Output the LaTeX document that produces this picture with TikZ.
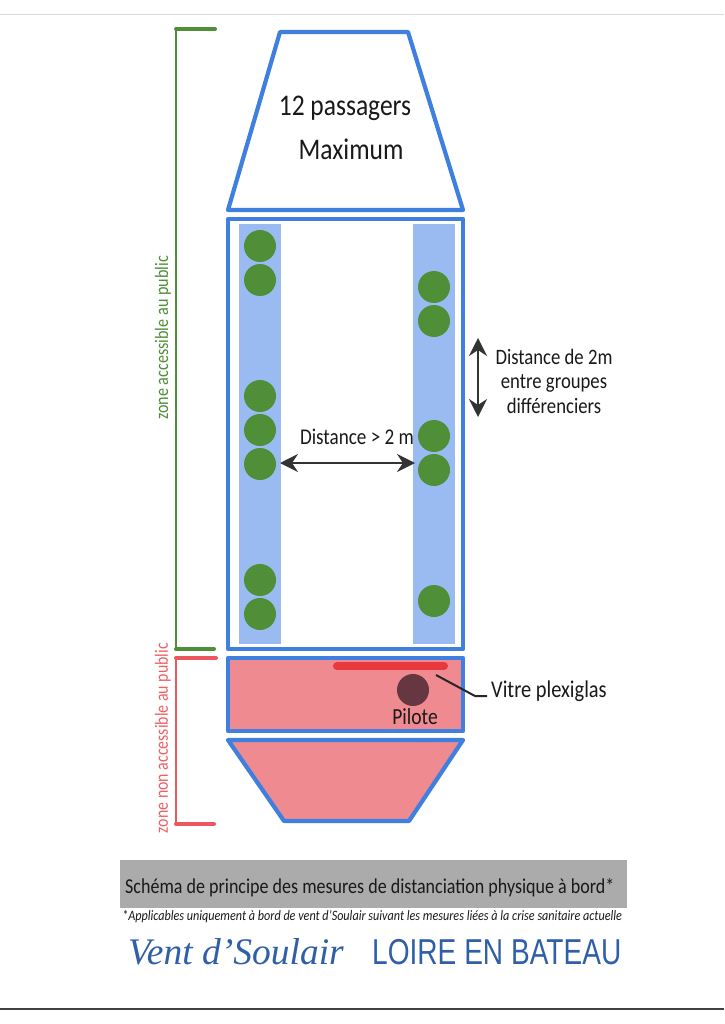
\documentclass[tikz,border=0pt]{standalone}
\usepackage{fontspec}
\setmainfont[FakeStretch=0.85]{Carlito}
\newfontfamily\titlefont[FakeStretch=0.78]{Liberation Sans}
\newfontfamily\ventfont{Liberation Serif}
\usetikzlibrary{arrows.meta}
\definecolor{coque}{HTML}{3F7FE0}
\definecolor{banc}{HTML}{9ABBF2}
\definecolor{passager}{HTML}{4F8F38}
\definecolor{rose}{HTML}{F08A91}
\definecolor{rouge}{HTML}{E8393F}
\definecolor{pilote}{HTML}{663740}
\definecolor{marine}{HTML}{2F5FA8}
\tikzset{
	coque/.style={draw=coque,line width=4.2pt,line join=round},
	banc/.style={fill=banc,draw=none},
	perso/.style={circle,fill=passager,minimum size=32pt,inner sep=0pt},
	crochet/.style={line width=2.4pt},
	fleche/.style={<->,>={Stealth[length=18pt,width=18pt,inset=6pt]},line width=2pt,draw=black!80},
	txt/.style={inner sep=0pt,text=black!90,align=center},
}
\begin{document}
\begin{tikzpicture}[x=1pt,y=-1pt]
	\useasboundingbox (0,0) rectangle (724,1024);
	\fill[white] (0,0) rectangle (724,1024);
	\draw[black!15,line width=1pt] (0,14.5)--(724,14.5);
	\draw[black!75,line width=1.2pt] (0,1009)--(724,1009);
	% crochets
	\draw[passager,crochet] (176,29)--(176,649);
	\draw[passager,line width=4pt,line cap=round] (176,29)--(215,29) (176,649)--(214,649);
	\draw[rouge!85,crochet] (176,658)--(176,824);
	\draw[rouge!85,line width=4pt,line cap=round] (176,658)--(216,658) (176,824)--(214,824);
	\node[rotate=90,text=passager,font=\fontsize{19}{21}\selectfont,inner sep=0pt] (zonePublic) at (163,338) {zone accessible au public};
	\node[rotate=90,text=rouge!80,font=\fontsize{18.7}{20}\selectfont,inner sep=0pt] (zonePrive) at (163,738) {zone non accessible au public};
	% coque
	\draw[coque] (280,32)--(408,32)--(463,210)--(228,210)--cycle;
	\draw[coque] (228,219) rectangle (463,649);
	\draw[coque,fill=rose] (228,658) rectangle (463,731);
	\draw[coque,fill=rose] (228,740)--(463,740)--(409,821)--(284,821)--cycle;
	\fill[banc] (239,224) rectangle (281,644);
	\fill[banc] (413,224) rectangle (455,644);
	% passagers
	\foreach \y [count=\i] in {246,280,396,430,464,580,614}
		\node[perso] (g\i) at (260,\y) {};
	\foreach \y [count=\i] in {287,321,436,470,601}
		\node[perso] (d\i) at (434,\y) {};
	% poste de pilotage
	\draw[rouge,line width=8pt,line cap=round] (337,666)--(444,666);
	\node[circle,fill=pilote,minimum size=32pt,inner sep=0pt] (pilote) at (413,690) {};
	\node[txt,font=\fontsize{23}{25}\selectfont] (nomPilote) at (415,717) {Pilote};
	\node[txt,anchor=west,font=\fontsize{24}{26}\selectfont] (vitre) at (491,691) {Vitre plexiglas};
	\coordinate (vitreBout) at (436,675);
	\coordinate (vitreCoude) at (475,696);
	\coordinate (vitreFin) at (487,696);
	\draw[black!85,line width=2pt] (vitreBout)--(vitreCoude)--(vitreFin);
	% textes
	\node[txt,font=\fontsize{30}{32}\selectfont] (passagers) at (345,108) {12 passagers};
	\node[txt,font=\fontsize{30}{32}\selectfont] (maximum) at (351,149) {Maximum};
	\node[txt,font=\fontsize{22.5}{24}\selectfont] (distH) at (357,437) {Distance > 2 m};
	\coordinate (flecheG) at (280,463);
	\coordinate (flecheD) at (415,463);
	\draw[fleche] (flecheG)--(flecheD);
	\coordinate (flecheH) at (478,338);
	\coordinate (flecheB) at (478,417);
	\draw[fleche] (flecheH)--(flecheB);
	\node[txt,font=\fontsize{22}{24.5}\selectfont] (distV) at (554,381) {Distance de 2m\\entre groupes\\différenciers};
	% bas de page
	\fill[black!33] (120,860) rectangle (627,908);
	\node[txt,anchor=west,font=\fontsize{21.2}{24}\selectfont] (titre) at (125,888) {Schéma de principe des mesures de distanciation physique à bord*};
	\node[txt,anchor=west,font=\fontsize{14.3}{16}\itshape] (note) at (122,917) {*Applicables uniquement à bord de vent d'Soulair suivant les mesures liées à la crise sanitaire actuelle};
	\node[inner sep=0pt,anchor=west,text=marine,font=\ventfont\fontsize{37.5}{40}\itshape] (vent) at (128,952) {Vent d’Soulair};
	\node[inner sep=0pt,anchor=west,text=marine,font=\titlefont\fontsize{36}{38}\selectfont] (loire) at (372,952) {LOIRE EN BATEAU};
\end{tikzpicture}
\end{document}
